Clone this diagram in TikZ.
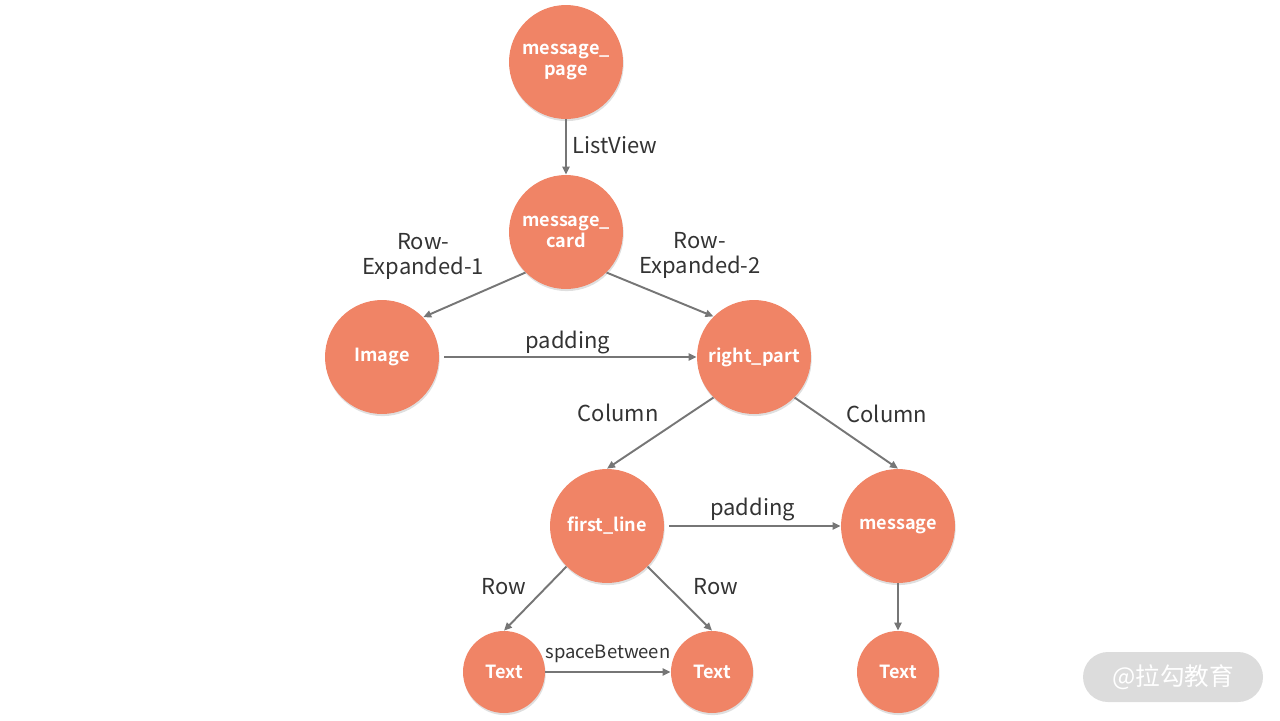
\documentclass[tikz,border=0pt]{standalone}
\usepackage{fontspec}
\setmainfont{Noto Sans CJK SC}[BoldFont={Noto Sans CJK SC Bold}]
\usepackage{xcolor}
\usetikzlibrary{arrows.meta,shadows}
\definecolor{nodefill}{HTML}{F08466}
\definecolor{linegray}{HTML}{767676}
\definecolor{txtgray}{HTML}{333333}
\definecolor{wmgray}{HTML}{DCDCDC}
\tikzset{
    widget/.style={circle, fill=nodefill, minimum size=2.28cm, inner sep=0, align=center, text=white, font=\fontsize{10.3}{12.3}\selectfont\bfseries, drop shadow={shadow xshift=0.4pt, shadow yshift=-1.2pt, opacity=0.25}},
    leaf/.style={widget, minimum size=1.64cm},
    flow/.style={-{Triangle[length=1.6mm, width=1.4mm]}, line width=1.1pt, draw=linegray},
    edgelbl/.style={font=\fontsize{12.5}{14}\selectfont, text=txtgray, align=center},
    stamp/.style={fill=wmgray, rounded corners=0.5cm, minimum width=3.6cm, minimum height=1cm, text=white, font=\fontsize{14}{16}\selectfont},
}

\begin{document}
\begin{tikzpicture}[x=0.02cm, y=-0.02cm]
    \useasboundingbox (0,0) rectangle (1280,720);

    \node[widget] (page) at (566,62) {message\_\\page};
    \node[widget] (card) at (566,232) {message\_\\card};
    \node[widget] (img) at (382,357) {Image};
    \node[widget] (rp) at (754,357) {right\_part};
    \node[widget] (fl) at (607,526) {first\_line};
    \node[widget] (msg) at (898,526) {message};
    \node[leaf] (t1) at (504,672) {Text};
    \node[leaf] (t2) at (712,672) {Text};
    \node[leaf] (t3) at (898,672) {Text};

    \draw[flow] (page) -- node[edgelbl, right, yshift=0.04cm] {ListView} (card);
    \draw[flow] (card.225) -- node[edgelbl, anchor=south east, xshift=0.33cm, yshift=0.17cm] {Row-\\Expanded-1} (img.44);
    \draw[flow] (card.315) -- node[edgelbl, anchor=south west, xshift=-0.55cm, yshift=0.19cm] {Row-\\Expanded-2} (rp.135);
    \draw[flow, shorten <=0.1cm] (img) -- node[edgelbl, above, yshift=-0.08cm] {padding} (rp);
    \draw[flow] (rp.225) -- node[edgelbl, above left, xshift=0.1cm, yshift=0.1cm] {Column} (fl.north);
    \draw[flow] (rp.315) -- node[edgelbl, above right, xshift=-0.13cm, yshift=0.08cm] {Column} (msg.north);
    \draw[flow, shorten <=0.1cm] (fl) -- node[edgelbl, above, yshift=-0.04cm] {padding} (msg);
    \draw[flow] (fl.225) -- node[edgelbl, above left, xshift=-0.04cm, yshift=-0.06cm] {Row} (t1.north);
    \draw[flow] (fl.315) -- node[edgelbl, above right, xshift=0.14cm, yshift=-0.06cm] {Row} (t2.north);
    \draw[flow] (t1) -- node[edgelbl, above, yshift=0.04cm, font=\fontsize{10.5}{12}\selectfont] {spaceBetween} (t2);
    \draw[flow] (msg) -- (t3);

    \node[stamp] (wm) at (1173,677) {@拉勾教育};
\end{tikzpicture}
\end{document}
